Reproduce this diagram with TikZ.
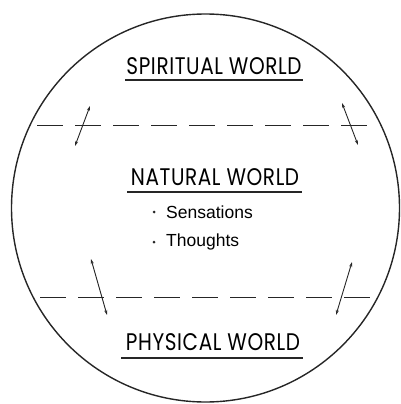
\documentclass[tikz,border=0pt]{standalone}
\usepackage{fontspec}
\setmainfont{Liberation Sans}
\newfontfamily\titlefont{Poppins}[LetterSpace=3]
\usetikzlibrary{arrows.meta}
\begin{document}
\begin{tikzpicture}[x=1pt,y=-1pt,
  ink/.style={draw=black!85},
  rim/.style={ink, line width=1.4pt},
  dashline/.style={ink, line width=0.8pt, dash pattern=on 26pt off 12pt},
  dblarrow/.style={ink, line width=0.9pt, {Stealth[open,length=5pt,width=3pt]}-{Stealth[open,length=5pt,width=3pt]}},
  title/.style={inner sep=0pt, font=\titlefont\fontsize{20}{20}\selectfont},
  item/.style={inner sep=0pt, anchor=west, font=\fontsize{17.5}{17.5}\selectfont},
  dot/.style={circle, fill=black!85, inner sep=0pt, minimum size=3pt},
  uline/.style={ink, line width=1.2pt}]
\useasboundingbox (0,0) rectangle (401,404);
\node[circle, rim, minimum size=388pt, inner sep=0pt] (world) at (205.5,208) {};
% dashed boundaries
\coordinate (ua) at (37,125);
\coordinate (ub) at (378,125);
\coordinate (la) at (40,297);
\coordinate (lb) at (380,297);
\draw[dashline] (ua) -- (ub);
\draw[dashline] (la) -- (lb);
% arrows
\coordinate (a1s) at (90,106);  \coordinate (a1e) at (75,146);
\coordinate (a2s) at (342,103); \coordinate (a2e) at (358,145);
\coordinate (a3s) at (91,259);  \coordinate (a3e) at (107,315);
\coordinate (a4s) at (352,262); \coordinate (a4e) at (336,315);
\draw[dblarrow] (a1s) -- (a1e);
\draw[dblarrow] (a2s) -- (a2e);
\draw[dblarrow] (a3s) -- (a3e);
\draw[dblarrow] (a4s) -- (a4e);
% titles
\node[title] (spirit) at (214,66) {\scalebox{1}[1.2]{SPIRITUAL WORLD}};
\node[title] (natural) at (215,177) {\scalebox{1}[1.2]{NATURAL WORLD}};
\node[title] (physical) at (213,342) {\scalebox{1}[1.2]{PHYSICAL WORLD}};
\draw[uline] ([yshift=-14pt]spirit.center -| 125,0) -- ([yshift=-14pt]spirit.center -| 303,0);
\draw[uline] ([yshift=-15pt]natural.center -| 127,0) -- ([yshift=-15pt]natural.center -| 302,0);
\draw[uline] ([yshift=-16pt]physical.center -| 121,0) -- ([yshift=-16pt]physical.center -| 303,0);
% items
\node[dot] (b1) at (154,212) {};
\node[dot] (b2) at (154,242) {};
\node[item] (sens) at (166,212) {Sensations};
\node[item] (thou) at (166,242) {Thoughts};
\end{tikzpicture}
\end{document}
